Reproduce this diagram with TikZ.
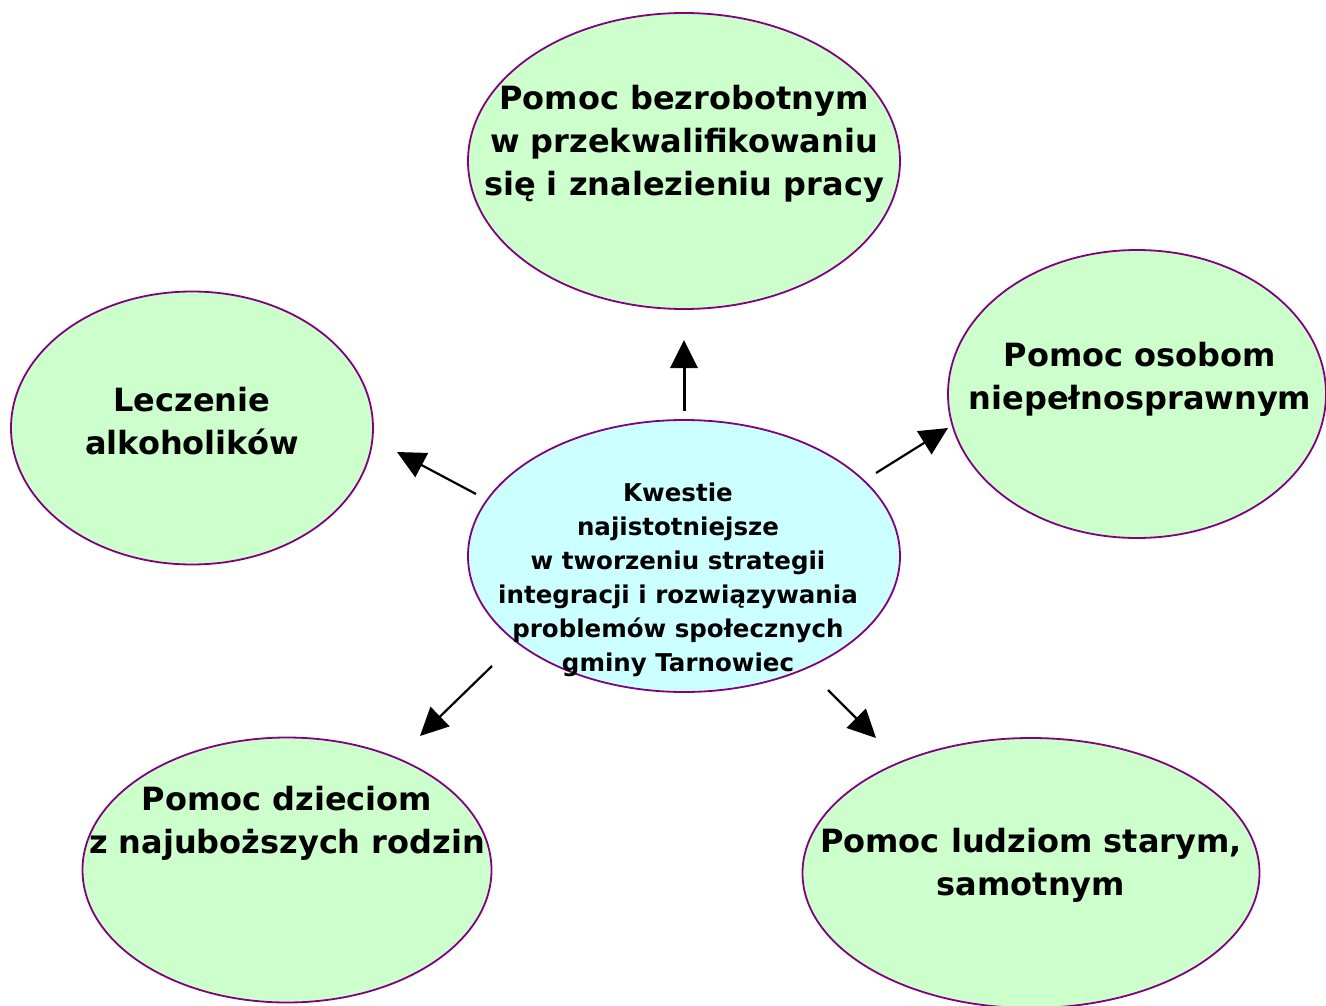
\documentclass[tikz,border=0pt]{standalone}
\usepackage{fontspec}
\setmainfont{DejaVu Sans}
\usetikzlibrary{shapes.geometric,arrows.meta}
\definecolor{edgepurple}{HTML}{800080}
\definecolor{leafgreen}{HTML}{CCFFCC}
\definecolor{centercyan}{HTML}{CCFFFF}
\tikzset{
  bubble/.style={ellipse, draw=edgepurple, line width=1.8pt, fill=leafgreen, inner sep=0pt},
  bigtext/.style={align=center, font=\bfseries\fontsize{32}{43}\selectfont, inner sep=0pt},
  smalltext/.style={align=center, font=\bfseries\fontsize{24.5}{34}\selectfont, inner sep=0pt},
  arr/.style={line width=2.2pt, -{Triangle[length=28pt,width=27pt]}}
}
\begin{document}
\begin{tikzpicture}[x=1pt,y=-1pt]
\useasboundingbox (0,0) rectangle (1326,1006);
\begin{scope}
\clip (0,0) rectangle (1326,1006);
% ellipses
\node[bubble, minimum width=432pt, minimum height=296pt] (top) at (684,161) {};
\node[bubble, minimum width=378pt, minimum height=288pt] (right) at (1137,394) {};
\node[bubble, minimum width=362pt, minimum height=273pt] (left) at (192,428) {};
\node[bubble, fill=centercyan, minimum width=432pt, minimum height=272pt] (center) at (684,556) {};
\node[bubble, minimum width=409pt, minimum height=265pt] (bl) at (287,870) {};
\node[bubble, minimum width=457pt, minimum height=270pt] (br) at (1031,873) {};
\end{scope}
% texts
\node[bigtext] (ttop) at (684,144) {Pomoc bezrobotnym\\w przekwalifikowaniu\\się i znalezieniu pracy};
\node[bigtext] (tright) at (1140,379) {Pomoc osobom\\niepełnosprawnym};
\node[bigtext] (tleft) at (192,421) {Leczenie\\alkoholików};
\node[smalltext] (tcenter) at (678,580) {Kwestie\\najistotniejsze\\w tworzeniu strategii\\integracji i rozwiązywania\\problemów społecznych\\gminy Tarnowiec};
\node[bigtext] (tbl) at (287,823) {Pomoc dzieciom\\z najuboższych rodzin};
\node[bigtext] (tbr) at (1031,865) {Pomoc ludziom starym,\\samotnym};
% arrow endpoints
\coordinate (aUs) at (684,411); \coordinate (aUe) at (684,340);
\coordinate (aRs) at (876,473); \coordinate (aRe) at (948,428);
\coordinate (aLs) at (476,494); \coordinate (aLe) at (397,452);
\coordinate (aBLs) at (492,666); \coordinate (aBLe) at (420,736);
\coordinate (aBRs) at (828,690); \coordinate (aBRe) at (876,738);
\draw[arr, line width=3pt] (aUs) -- (aUe);
\draw[arr] (aRs) -- (aRe);
\draw[arr] (aLs) -- (aLe);
\draw[arr] (aBLs) -- (aBLe);
\draw[arr] (aBRs) -- (aBRe);
\end{tikzpicture}
\end{document}
